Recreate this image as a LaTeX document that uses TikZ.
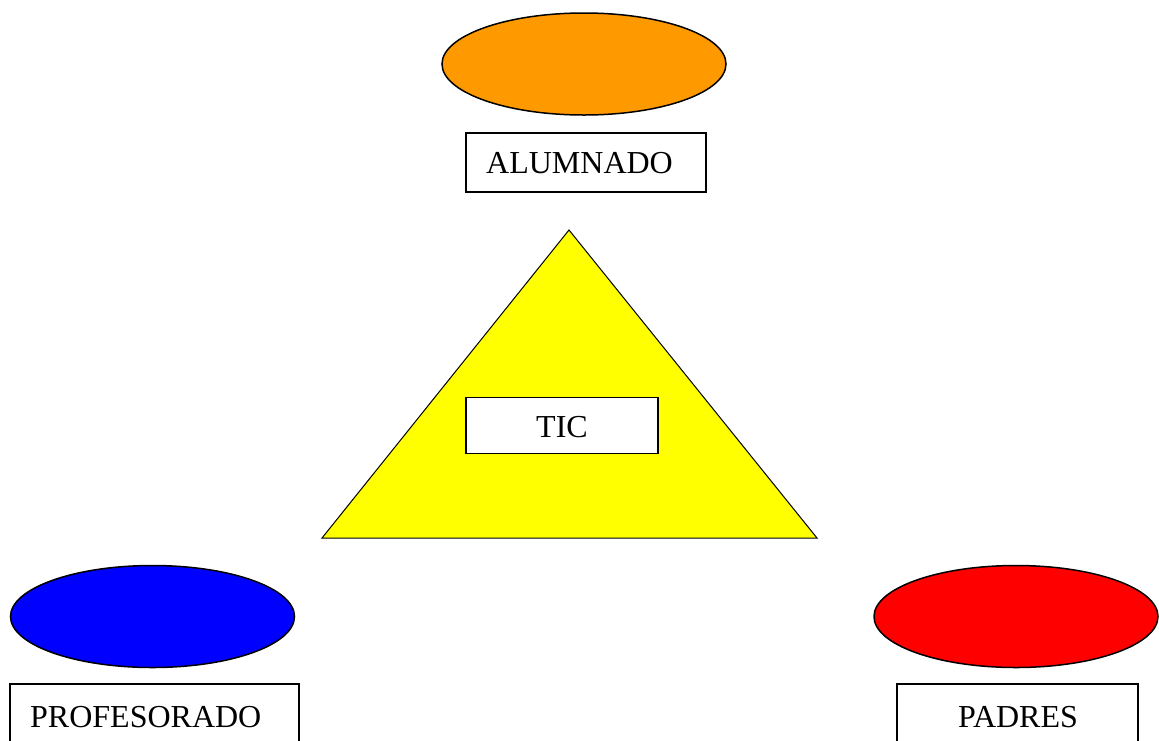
\documentclass[tikz,border=0pt]{standalone}
\usepackage{fontspec}
\setmainfont{Liberation Serif}
\usetikzlibrary{shapes.geometric}
\definecolor{orng}{HTML}{FF9900}
\definecolor{blu}{HTML}{0000FF}
\definecolor{rd}{HTML}{FF0000}
\definecolor{ylw}{HTML}{FFFF00}
\tikzset{
  oval/.style={ellipse, draw=black, line width=1.5pt, minimum width=284pt, minimum height=102pt, inner sep=0pt},
  labelbox/.style={rectangle, draw=black, fill=white, line width=1.8pt, inner sep=0pt},
  lbl/.style={font=\fontsize{32}{36}\selectfont, inner sep=0pt, anchor=base west},
}
\begin{document}
\begin{tikzpicture}[x=1pt,y=-1pt]
\useasboundingbox (0,0) rectangle (1159,740);
\clip (0,0) rectangle (1159,740);
% ellipses
\node[oval, fill=orng] (alu) at (584,64) {};
\node[oval, fill=blu] (pro) at (152.5,616.5) {};
\node[oval, fill=rd] (pad) at (1016,616.5) {};
% triangle
\coordinate (apex) at (569,230);
\coordinate (bl) at (322,538);
\coordinate (br) at (817,538);
\draw[fill=ylw, line width=1pt] (apex) -- (bl) -- (br) -- cycle;
% boxes
\node[labelbox, minimum width=240pt, minimum height=59pt] (aluBox) at (586,162.5) {};
\node[labelbox, minimum width=192pt, minimum height=56pt] (ticBox) at (562,425.5) {};
\node[labelbox, minimum width=289pt, minimum height=80pt] (proBox) at (154.5,724) {};
\node[labelbox, minimum width=241pt, minimum height=80pt] (padBox) at (1017.5,724) {};
% texts
\node[lbl] (aluT) at (486,173) {ALUMNADO};
\node[lbl, anchor=base] (ticT) at (562,437) {TIC};
\node[lbl] (proT) at (30,727) {PROFESORADO};
\node[lbl, anchor=base] (padT) at (1018,727) {PADRES};
\end{tikzpicture}
\end{document}
